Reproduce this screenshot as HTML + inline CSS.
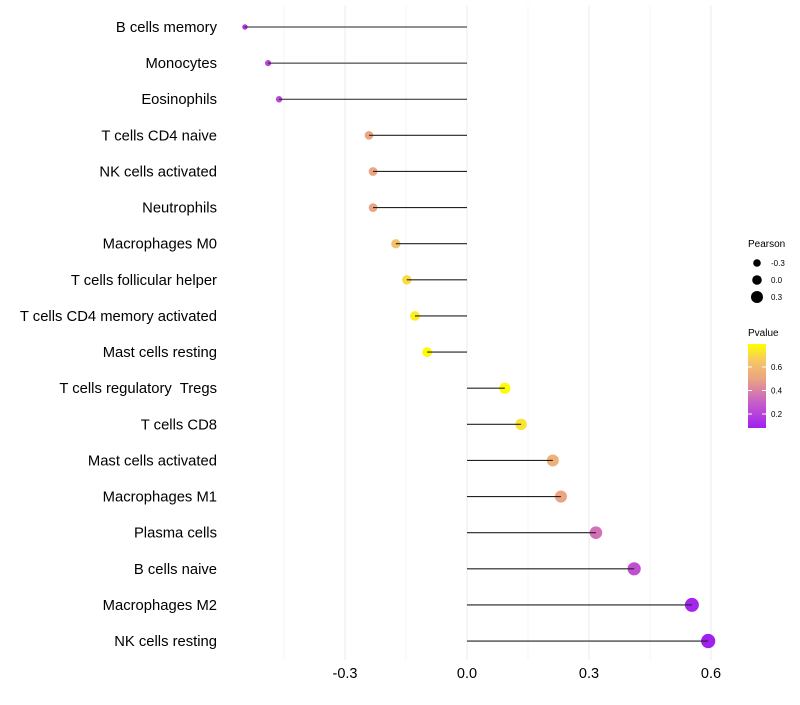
<!DOCTYPE html>
<html><head><meta charset="utf-8"><style>
body{margin:0;background:#fff;font-family:"Liberation Sans",sans-serif}
</style></head><body>
<svg id="c" width="800" height="700" font-family="Liberation Sans, sans-serif"></svg>
<script>
const cells=["B cells memory","Monocytes","Eosinophils","T cells CD4 naive","NK cells activated","Neutrophils","Macrophages M0","T cells follicular helper","T cells CD4 memory activated","Mast cells resting","T cells regulatory  Tregs","T cells CD8","Mast cells activated","Macrophages M1","Plasma cells","B cells naive","Macrophages M2","NK cells resting"];
const pearson=[-0.546,-0.489,-0.462,-0.241,-0.231,-0.231,-0.175,-0.148,-0.128,-0.098,0.093,0.133,0.211,0.231,0.317,0.411,0.553,0.593];
const pvalue=[0.15,0.2,0.22,0.5,0.5,0.5,0.62,0.7,0.75,0.78,0.78,0.72,0.55,0.5,0.35,0.25,0.1,0.08];
const xTicks=[-0.3,0,0.3,0.6];
const xTickLabels=["-0.3","0.0","0.3","0.6"];
const minorVals=[-0.45,-0.15,0.15,0.45];
const sizeLegend=[-0.3,0,0.3];
const pLegend=[0.2,0.4,0.6];

const svg=document.getElementById('c');const NS="http://www.w3.org/2000/svg";
function mk(t,a,p){const e=document.createElementNS(NS,t);for(const k in a)e.setAttribute(k,a[k]);(p||svg).appendChild(e);return e;}
const X=v=>467+v*406.7;
const Y=i=>27+i*36.12;
const R=v=>Math.sqrt(Math.max(1,28+38*v));
const stops=[[0.08,[160,32,240]],[0.3,[200,96,200]],[0.5,[235,165,130]],[0.65,[245,200,100]],[0.79,[255,255,0]]];
function col(p){if(p<=stops[0][0])return `rgb(${stops[0][1]})`;for(let i=1;i<stops.length;i++){if(p<=stops[i][0]){const a=stops[i-1],b=stops[i],t=(p-a[0])/(b[0]-a[0]);return `rgb(${a[1].map((c,j)=>Math.round(c+(b[1][j]-c)*t))})`;}}return `rgb(${stops[stops.length-1][1]})`;}
const PY=v=>414-(v-0.2)*117.5;

minorVals.forEach(g=>{const l=mk('line',{x1:X(g),x2:X(g),y1:5,y2:660,stroke:'#f4f4f4','stroke-width':1});

});
xTicks.forEach((t,i)=>{const l=mk('line',{x1:X(t),x2:X(t),y1:5,y2:660,stroke:'#ebebeb','stroke-width':1});


const e=mk('text',{x:X(t),y:678,'text-anchor':'middle','font-size':14.5,fill:'#000'});e.textContent=xTickLabels[i];

});
cells.forEach((c,i)=>{const y=Y(i);
const lb=mk('text',{x:217,y:y+5,'text-anchor':'end','font-size':14.8,fill:'#000'});lb.textContent=c;lb.style.whiteSpace='pre';


const d=mk('circle',{cx:X(pearson[i]),cy:y,r:R(pearson[i]),fill:col(pvalue[i])});


const ln=mk('line',{x1:X(0),x2:X(pearson[i]),y1:y,y2:y,stroke:'#222','stroke-width':1.1});

});
// legends
const t1=mk('text',{x:748,y:247,'font-size':10});t1.textContent='Pearson';


sizeLegend.forEach((v,i)=>{const y=263+i*17;
const c=mk('circle',{cx:757,cy:y,r:[3.8,4.8,6][i],fill:'#000'});


const t=mk('text',{x:771,y:y+3,'font-size':8});t.textContent=['-0.3','0.0','0.3'][i];

});
const t2=mk('text',{x:748,y:336,'font-size':10});t2.textContent='Pvalue';


const defs=mk('defs',{});const gr=mk('linearGradient',{id:'g',x1:0,y1:1,x2:0,y2:0},defs);
stops.forEach(s=>mk('stop',{offset:(s[0]-0.08)/0.71,'stop-color':`rgb(${s[1]})`},gr));
const bar=mk('rect',{x:748,y:344,width:18,height:84,fill:'url(#g)'});


pLegend.forEach(v=>{const y=PY(v);mk('line',{x1:748,x2:752,y1:y,y2:y,stroke:'#fff'});mk('line',{x1:762,x2:766,y1:y,y2:y,stroke:'#fff'});
const t=mk('text',{x:771,y:y+3,'font-size':8});t.textContent=v.toFixed(1);

});
</script>
</body></html>
